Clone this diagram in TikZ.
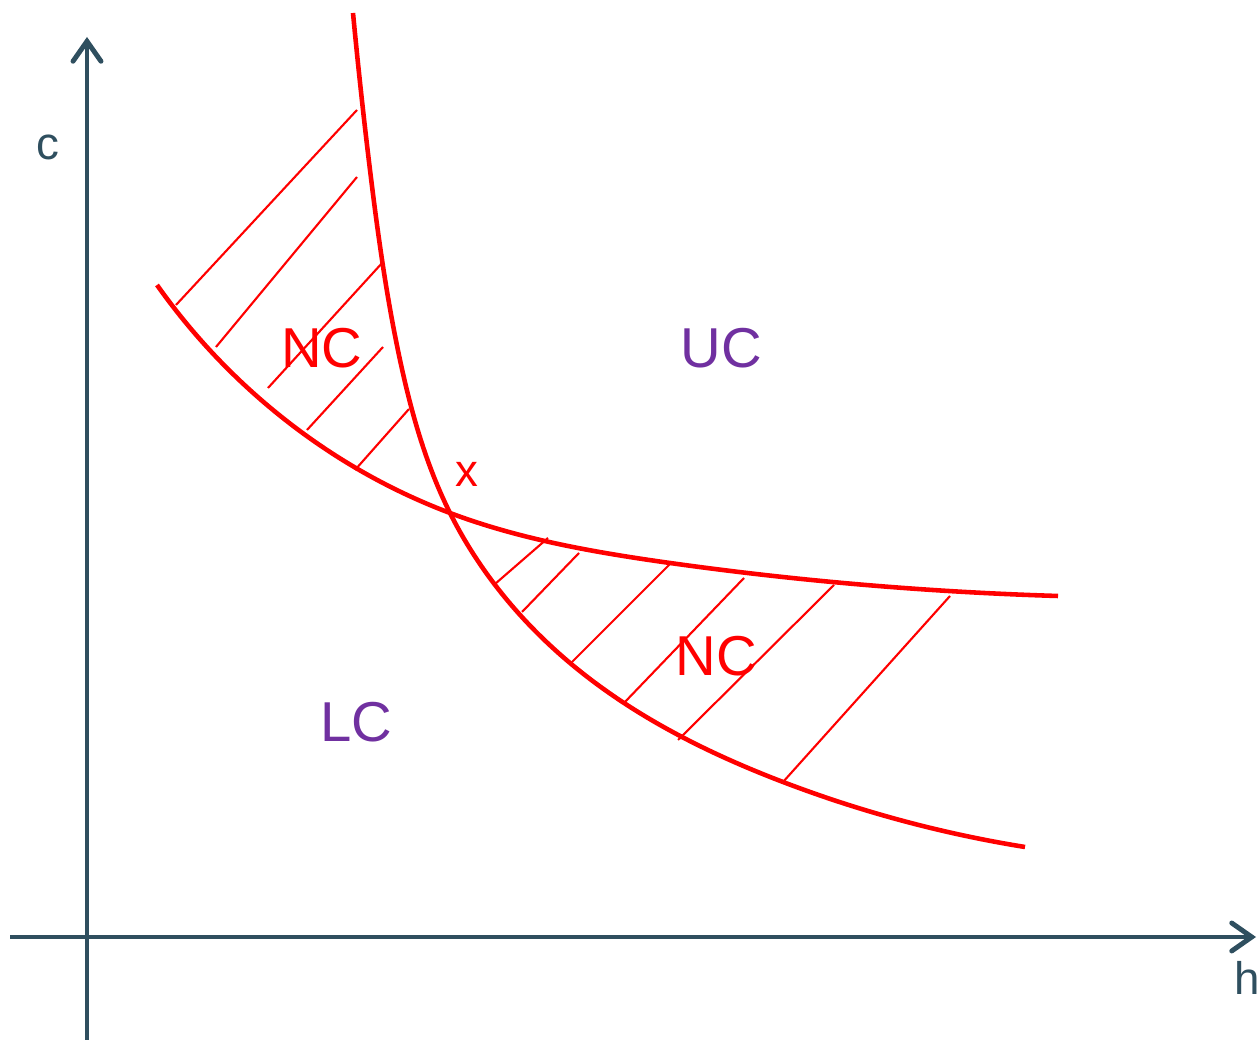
\documentclass[tikz,border=0pt]{standalone}
\usepackage{fontspec}
\setmainfont{Liberation Sans}
\usetikzlibrary{arrows.meta, hobby}
\definecolor{axisgray}{RGB}{47,79,95}
\definecolor{regionpurple}{RGB}{112,48,160}
\tikzset{
    axis line/.style={draw=axisgray, line width=1.4pt, -{Straight Barb[length=2mm, width=2.8mm, line cap=round]}},
    axis label/.style={text=axisgray, font=\fontsize{13}{15}\selectfont},
    bound curve/.style={draw=red, line width=1.3pt, use Hobby shortcut},
    hatch/.style={draw=red, line width=0.6pt},
    region label/.style={text=regionpurple, font=\fontsize{16}{18}\selectfont},
    nc label/.style={text=red, font=\fontsize{16}{18}\selectfont}
}

\begin{document}
\begin{tikzpicture}
% Consistency regions in the (h,c) plane.
  \useasboundingbox (0,0) rectangle (12.59,10.40);
  \coordinate (ybot) at (0.87,0.00);
  \coordinate (ytop) at (0.87,10.03);
  \coordinate (xleft) at (0.10,1.03);
  \coordinate (xright) at (12.56,1.03);
  \draw[axis line] (ybot) -- (ytop);
  \draw[axis line] (xleft) -- (xright);
  \node[axis label] (c) at (0.48,8.93) {c};
  \node[axis label] (h) at (12.47,0.62) {h};
  % the two bounding curves
  \coordinate (cross) at (4.50,5.27);
  \draw[bound curve] (3.53,10.27) .. (3.70,8.70) .. (4.00,6.80) .. (cross) .. (5.70,3.77) .. (7.83,2.58) .. (10.25,1.93);
  \draw[bound curve] (1.57,7.55) .. (2.73,6.30) .. (cross) .. (6.70,4.77) .. (10.58,4.44);
  % hatching, upper left
  \draw[hatch] (1.76,7.35) -- (3.57,9.30);
  \draw[hatch] (2.16,6.93) -- (3.57,8.63);
  \draw[hatch] (2.68,6.52) -- (3.83,7.78);
  \draw[hatch] (3.07,6.10) -- (3.83,6.93);
  \draw[hatch] (3.55,5.70) -- (4.09,6.31);
  % hatching, lower right
  \draw[hatch] (4.95,4.56) -- (5.48,5.02);
  \draw[hatch] (5.22,4.28) -- (5.79,4.87);
  \draw[hatch] (5.71,3.77) -- (6.71,4.77);
  \draw[hatch] (6.23,3.36) -- (7.44,4.62);
  \draw[hatch] (6.78,3.00) -- (8.34,4.55);
  \draw[hatch] (7.83,2.58) -- (9.50,4.44);
  % region labels
  \node[nc label] (nc1) at (3.22,6.92) {NC};
  \node[region label] (uc) at (7.21,6.92) {UC};
  \node[nc label] (nc2) at (7.16,3.84) {NC};
  \node[region label] (lc) at (3.56,3.18) {LC};
  \node[text=red, font=\fontsize{13}{15}\selectfont] (x) at (4.67,5.66) {x};
\end{tikzpicture}
\end{document}
